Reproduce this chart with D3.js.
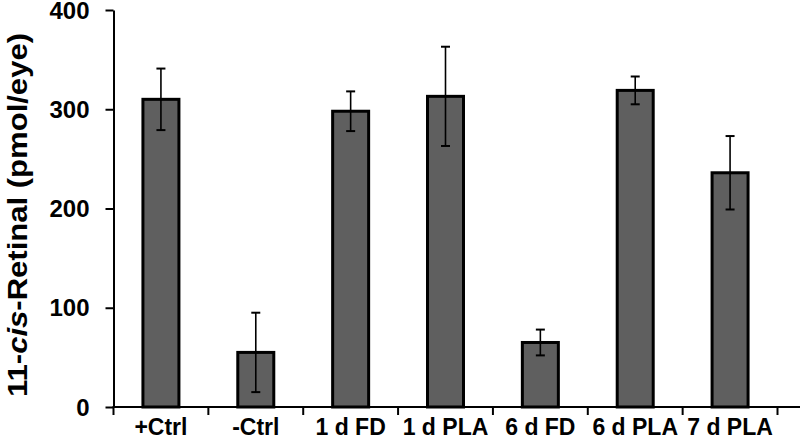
<!DOCTYPE html>
<html><head><meta charset="utf-8">
<script src="https://cdn.jsdelivr.net/npm/d3@7"></script>
<style>body{margin:0;background:#fff}svg{display:block}</style>
</head><body>
<svg id="c" width="800" height="439"></svg>
<script>
const categories = ["+Ctrl", "-Ctrl", "1 d FD", "1 d PLA", "6 d FD", "6 d PLA", "7 d PLA"];
const values = [310, 55, 298, 313, 65, 319, 236];
const errors = [31, 40, 20, 50, 13, 14, 37];
const yTicks = [0, 100, 200, 300, 400];

const svg = d3.select("#c");
const x = d3.scaleBand().domain(categories).range([113.5, 777.5]).padding(0);
const y = d3.scaleLinear().domain([0, 400]).range([407, 10]);
const font = "'Liberation Sans', Arial, sans-serif";

// bars
const barW = 36;
svg.selectAll("rect.bar").data(categories).join("rect")
  .attr("x", d => x(d) + x.bandwidth() / 2 - barW / 2)
  .attr("y", (d, i) => y(values[i]))
  .attr("width", barW)
  .attr("height", (d, i) => y(0) - y(values[i]))
  .attr("fill", "#5f5f5f").attr("stroke", "#000").attr("stroke-width", 3);

// error bars
const eg = svg.append("g").attr("stroke", "#000").attr("stroke-width", 1.6);
categories.forEach((c, i) => {
  const cx = x(c) + x.bandwidth() / 2;
  const hi = y(values[i] + errors[i]), lo = y(values[i] - errors[i]);
  eg.append("line").attr("x1", cx).attr("x2", cx).attr("y1", hi).attr("y2", lo);
  eg.append("line").attr("x1", cx - 4.5).attr("x2", cx + 4.5).attr("y1", hi).attr("y2", hi).attr("stroke-width", 2);
  eg.append("line").attr("x1", cx - 4.5).attr("x2", cx + 4.5).attr("y1", lo).attr("y2", lo).attr("stroke-width", 2);
});

// y axis
const ya = svg.append("g").attr("transform", "translate(113.5,0)")
  .call(d3.axisLeft(y).tickValues(yTicks).tickSize(8).tickSizeOuter(0).tickPadding(16));
ya.select(".domain").attr("stroke-width", 2);
ya.selectAll(".tick line").attr("stroke-width", 2);
ya.selectAll("text").attr("font-family", font).attr("font-weight", "bold").attr("font-size", 24).attr("fill", "#000")
  .attr("dy", "0.34em");

// x axis
const xa = svg.append("g").attr("transform", "translate(0,407)");
xa.append("line").attr("x1", 112.5).attr("x2", 800).attr("stroke", "#000").attr("stroke-width", 2);
const bounds = categories.map(c => x(c)).concat([x.range()[1]]);
xa.selectAll("line.t").data(bounds).join("line").attr("class", "t")
  .attr("x1", d => d).attr("x2", d => d).attr("y1", 0).attr("y2", 8)
  .attr("stroke", "#000").attr("stroke-width", 2);
xa.selectAll("text").data(categories).join("text")
  .attr("x", d => x(d) + x.bandwidth() / 2).attr("y", 27.5)
  .attr("text-anchor", "middle")
  .attr("font-family", font).attr("font-weight", "bold").attr("font-size", 23)
  .text(d => d);

// y title
const t = svg.append("text")
  .attr("transform", "translate(27,215) rotate(-90)")
  .attr("text-anchor", "middle")
  .attr("font-family", font).attr("font-weight", "bold").attr("font-size", 28)
  .attr("textLength", 364).attr("lengthAdjust", "spacingAndGlyphs");
t.append("tspan").text("11-");
t.append("tspan").attr("font-style", "italic").text("cis");
t.append("tspan").text("-Retinal (pmol/eye)");
</script>
</body></html>
